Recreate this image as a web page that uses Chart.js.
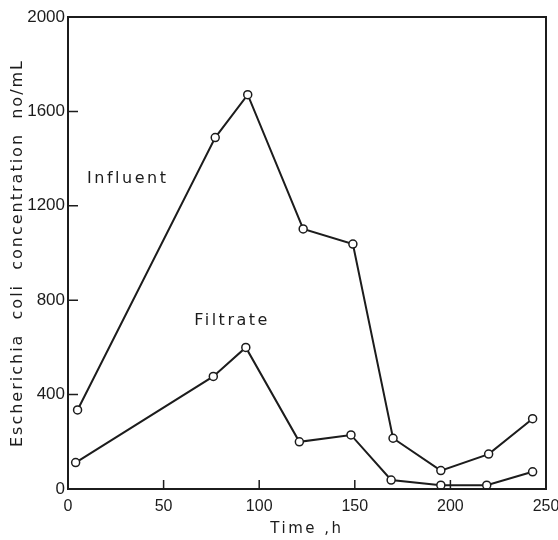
<!DOCTYPE html>
<html>
<head>
<meta charset="utf-8">
<script src="https://cdn.jsdelivr.net/npm/chart.js@4.4.1/dist/chart.umd.min.js"></script>
<style>
  body { margin: 0; background: #fff; }
  canvas { display: block; }
</style>
</head>
<body>
<canvas id="ecoli-chart" width="558" height="540"></canvas>
<script>
// values
const influentHours = [5, 77, 94, 123, 149, 170, 195, 220, 243];
const influentCount = [335, 1489, 1671, 1102, 1038, 215, 78, 148, 298];
const filtrateHours = [4, 76, 93, 121, 148, 169, 195, 219, 243];
const filtrateCount = [112, 477, 600, 200, 229, 38, 16, 16, 73];

const xTicks = [0, 50, 100, 150, 200, 250];
const yTicks = [0, 400, 800, 1200, 1600, 2000];

// curve labels placed in data coordinates
const curveLabels = [
    { text: 'Influent', x: 10, y: 1313 },
    { text: 'Filtrate', x: 66, y: 712 }
];

const ink = '#1c1c1c';

const toPoints = (xs, ys) => xs.map((x, i) => ({ x: x, y: ys[i] }));

// box around the plot, inward ticks, curve labels
const paperFrame = {
    id: 'paperFrame',
    beforeDraw(chart) {
        ['x', 'y'].forEach(id => {
            const scale = chart.scales[id];
            if (scale._spaced) return;
            const orig = scale.drawTitle;
            const spacing = id === 'y' ? '2px' : '2.5px';
            scale.drawTitle = function () {
                const ctx = this.ctx;
                const prev = ctx.letterSpacing;
                ctx.letterSpacing = spacing;
                orig.apply(this, arguments);
                ctx.letterSpacing = prev;
            };
            scale._spaced = true;
        });
    },
    afterDraw(chart) {
        const { ctx, chartArea: a, scales: { x, y } } = chart;
        ctx.save();
        ctx.strokeStyle = ink;
        ctx.lineWidth = 2;
        ctx.strokeRect(a.left, a.top, a.right - a.left, a.bottom - a.top);

        ctx.lineWidth = 1.5;
        ctx.beginPath();
        xTicks.slice(1, -1).forEach(v => {
            const px = x.getPixelForValue(v);
            ctx.moveTo(px, a.bottom);
            ctx.lineTo(px, a.bottom - 9);
        });
        yTicks.slice(1, -1).forEach(v => {
            const py = y.getPixelForValue(v);
            ctx.moveTo(a.left, py);
            ctx.lineTo(a.left + 10, py);
        });
        ctx.stroke();

        ctx.fillStyle = ink;
        ctx.font = '16px "DejaVu Sans"';
        ctx.letterSpacing = '2.5px';
        ctx.textAlign = 'left';
        ctx.textBaseline = 'middle';
        curveLabels.forEach(l => {
            ctx.fillText(l.text, x.getPixelForValue(l.x), y.getPixelForValue(l.y));
        });
        ctx.restore();
    }
};

new Chart(document.getElementById('ecoli-chart'), {
    type: 'line',
    data: {
        datasets: [
            {
                label: 'Influent',
                data: toPoints(influentHours, influentCount),
                borderColor: ink,
                borderWidth: 2,
                pointRadius: 4,
                pointBorderWidth: 1.5,
                pointBackgroundColor: '#fff',
                pointBorderColor: ink,
                tension: 0
            },
            {
                label: 'Filtrate',
                data: toPoints(filtrateHours, filtrateCount),
                borderColor: ink,
                borderWidth: 2,
                pointRadius: 4,
                pointBorderWidth: 1.5,
                pointBackgroundColor: '#fff',
                pointBorderColor: ink,
                tension: 0
            }
        ]
    },
    options: {
        responsive: false,
        animation: false,
        layout: { padding: { top: 17, right: 12, left: 0, bottom: 0 } },
        plugins: {
            legend: { display: false },
            tooltip: { enabled: false }
        },
        scales: {
            x: {
                type: 'linear',
                min: 0,
                max: 250,
                afterBuildTicks: s => { s.ticks = xTicks.map(v => ({ value: v })); },
                afterFit: s => { s.height = 51; s.paddingLeft = 0; s.paddingRight = 0; },
                grid: { display: false, drawTicks: false },
                border: { color: ink, width: 2 },
                ticks: {
                    color: ink,
                    padding: 8,
                    maxRotation: 0,
                    callback: v => String(v),
                    font: { family: '"Liberation Sans"', size: 16 }
                },
                title: {
                    display: true,
                    text: 'Time ,h',
                    color: ink,
                    padding: { top: 0, bottom: 2 },
                    font: { family: '"DejaVu Sans"', size: 15 }
                }
            },
            y: {
                min: 0,
                max: 2000,
                afterBuildTicks: s => { s.ticks = yTicks.map(v => ({ value: v })); },
                afterFit: s => { s.width = 68; s.paddingTop = 0; s.paddingBottom = 0; },
                grid: { display: false, drawTicks: false },
                border: { color: ink, width: 2 },
                ticks: {
                    color: ink,
                    padding: 3,
                    callback: v => String(v),
                    font: { family: '"Liberation Sans"', size: 17 }
                },
                title: {
                    display: true,
                    text: 'Escherichia  coli  concentration  no/mL',
                    color: ink,
                    padding: { top: 8, bottom: 0 },
                    font: { family: '"DejaVu Sans"', size: 16 }
                }
            }
        }
    },
    plugins: [paperFrame]
});
</script>
</body>
</html>
